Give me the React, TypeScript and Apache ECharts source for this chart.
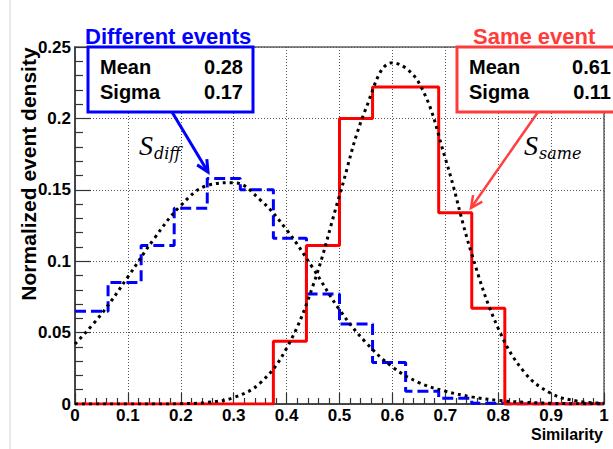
import React, { useEffect, useRef } from "react";
import * as echarts from "echarts";

// Histogram bin edges (16 bins of width 1/16)
const binEdges = [0, 0.0625, 0.125, 0.1875, 0.25, 0.3125, 0.375, 0.4375, 0.5, 0.5625, 0.625, 0.6875, 0.75, 0.8125, 0.875, 0.9375, 1];
// Different events histogram (blue, dashed)
const diffCounts = [0.065, 0.085, 0.111, 0.137, 0.158, 0.150, 0.116, 0.077, 0.056, 0.029, 0.009, 0.004, 0.0005, 0, 0, 0];
// Same event histogram (red, solid)
const sameCounts = [0, 0, 0, 0, 0, 0, 0.044, 0.111, 0.200, 0.222, 0.222, 0.134, 0.067, 0, 0, 0];

// Fitted curves (dotted)
const curveX = [0, 0.05, 0.1, 0.15, 0.2, 0.25, 0.3, 0.35, 0.4, 0.45, 0.5, 0.55, 0.6, 0.65, 0.7, 0.75, 0.8, 0.85, 0.9, 0.95, 1];
const diffFit = [0.042, 0.063, 0.089, 0.116, 0.139, 0.153, 0.155, 0.143, 0.122, 0.095, 0.066, 0.043, 0.026, 0.015, 0.009, 0.005, 0.0025, 0.0012, 0.0005, 0.0002, 0.0001];
const sameFit = [0, 0, 0, 0, 0.0002, 0.0011, 0.0045, 0.0147, 0.039, 0.083, 0.146, 0.207, 0.239, 0.225, 0.172, 0.105, 0.053, 0.022, 0.0074, 0.002, 0.0005];

const diffStats = { title: "Different events", mean: "0.28", sigma: "0.17" };
const sameStats = { title: "Same event", mean: "0.61", sigma: "0.11" };

const SANS = "'Liberation Sans', Arial, sans-serif";
const SERIF = "'DejaVu Serif', serif";
const SERIF2 = "'Liberation Serif', 'Times New Roman', serif";

function stepData(counts: number[]) {
  const pts = counts.map((v, i) => [binEdges[i], v]);
  pts.push([binEdges[binEdges.length - 1], counts[counts.length - 1]]);
  return pts;
}

function arrow(x1: number, y1: number, x2: number, y2: number, color: string, width: number) {
  const a = Math.atan2(y2 - y1, x2 - x1);
  const L = 13;
  const s = 0.45;
  return [
    { type: "line", shape: { x1, y1, x2, y2 }, style: { stroke: color, lineWidth: width }, z: 20 },
    {
      type: "polyline",
      shape: {
        points: [
          [x2 - L * Math.cos(a - s), y2 - L * Math.sin(a - s)],
          [x2, y2],
          [x2 - L * Math.cos(a + s), y2 - L * Math.sin(a + s)],
        ],
      },
      style: { stroke: color, lineWidth: width, fill: null },
      z: 20,
    },
  ];
}

function statBox(x: number, w: number, color: string, stats: any, valRight: number, titleX: number) {
  const font = (size: number) => ({ fontFamily: SANS, fontWeight: "bold", fontSize: size });
  return [
    { type: "rect", shape: { x, y: 47, width: w, height: 65 }, style: { fill: "#fff", stroke: color, lineWidth: 3 }, z: 20 },
    { type: "text", x: titleX, y: 36, style: { text: stats.title, fill: color, ...font(22), align: "left", verticalAlign: "middle" }, z: 21 },
    { type: "text", x: x + 12, y: 67, style: { text: "Mean", fill: "#000", ...font(20), align: "left", verticalAlign: "middle" }, z: 21 },
    { type: "text", x: valRight, y: 67, style: { text: stats.mean, fill: "#000", ...font(20), align: "right", verticalAlign: "middle" }, z: 21 },
    { type: "text", x: x + 12, y: 92, style: { text: "Sigma", fill: "#000", ...font(20), align: "left", verticalAlign: "middle" }, z: 21 },
    { type: "text", x: valRight, y: 92, style: { text: stats.sigma, fill: "#000", ...font(20), align: "right", verticalAlign: "middle" }, z: 21 },
  ];
}

function sLabel(x: number, sub: string) {
  return [
    { type: "text", x, y: 145, style: { text: "S", fill: "#000", fontFamily: SERIF2, fontStyle: "italic", fontSize: 28, align: "left", verticalAlign: "middle" }, z: 21 },
    { type: "text", x: x + 15, y: 153, style: { text: sub, fill: "#000", fontFamily: SERIF, fontStyle: "italic", fontSize: 16, align: "left", verticalAlign: "middle" }, z: 21 },
  ];
}

export default function App() {
  const ref = useRef<HTMLDivElement>(null);
  useEffect(() => {
    if (!ref.current) return;
    const chart = echarts.init(ref.current, undefined, { renderer: "svg" });
    const axisLabel = { color: "#000", fontFamily: SANS, fontWeight: "bold", fontSize: 17 };
    const split = { show: true, lineStyle: { color: "#555", type: [1, 2], width: 1 } };
    chart.setOption({
      animation: false,
      backgroundColor: "#fff",
      grid: { left: 75, right: 9, top: 47, bottom: 45, show: true, borderColor: "#888", borderWidth: 2, backgroundColor: "transparent" },
      xAxis: {
        type: "value",
        min: 0,
        max: 1,
        interval: 0.1,
        axisLine: { show: true, onZero: false, lineStyle: { color: "#333", width: 1.5 } },
        axisTick: { show: true, inside: true, length: 11, lineStyle: { color: "#333", width: 1.2 } },
        minorTick: { show: true, splitNumber: 5, length: 6, lineStyle: { color: "#333", width: 1.2 } },
        axisLabel: { ...axisLabel, margin: 3 },
        splitLine: split,
      },
      yAxis: {
        type: "value",
        min: 0,
        max: 0.25,
        interval: 0.05,
        axisLine: { show: true, onZero: false, lineStyle: { color: "#333", width: 1.5 } },
        axisTick: { show: true, inside: true, length: 16, lineStyle: { color: "#333", width: 1.2 } },
        minorTick: { show: true, splitNumber: 5, length: 8, lineStyle: { color: "#333", width: 1.2 } },
        axisLabel: { ...axisLabel, margin: 4 },
        splitLine: split,
      },
      series: [
        {
          type: "line",
          name: "Different events",
          data: stepData(diffCounts),
          step: "end",
          showSymbol: false,
          lineStyle: { color: "#0000ff", width: 3, type: [11, 5] },
          z: 3,
        },
        {
          type: "line",
          name: "Same event",
          data: stepData(sameCounts),
          step: "end",
          showSymbol: false,
          lineStyle: { color: "#ff0000", width: 3 },
          z: 4,
        },
        {
          type: "line",
          name: "Different fit",
          data: curveX.map((x, i) => [x, diffFit[i]]),
          smooth: 0.4,
          showSymbol: false,
          lineStyle: { color: "#000", width: 3, type: [3, 4], cap: "butt" },
          z: 5,
        },
        {
          type: "line",
          name: "Same fit",
          data: curveX.map((x, i) => [x, sameFit[i]]),
          smooth: 0.4,
          showSymbol: false,
          lineStyle: { color: "#000", width: 3, type: [3, 4], cap: "butt" },
          z: 5,
        },
      ],
      graphic: [
        { type: "line", shape: { x1: 10, y1: 0, x2: 10, y2: 449 }, style: { stroke: "#d4d4d4", lineWidth: 1 } },
        {
          type: "text",
          x: 28,
          y: 174,
          rotation: Math.PI / 2,
          style: { text: "Normalized event density", fill: "#000", fontFamily: SANS, fontWeight: "bold", fontSize: 21, align: "center", verticalAlign: "middle" },
        },
        {
          type: "text",
          x: 603,
          y: 434,
          style: { text: "Similarity", fill: "#000", fontFamily: SANS, fontWeight: "bold", fontSize: 16, align: "right", verticalAlign: "middle" },
        },
        ...statBox(88, 165, "#0000ff", diffStats, 243, 85),
        ...statBox(457, 170, "#ff3c3c", sameStats, 611, 473),
        ...arrow(172, 112, 208, 172, "#0000ff", 3),
        ...arrow(538, 112, 471, 208, "#ff4040", 2.5),
        ...sLabel(139, "diff"),
        ...sLabel(524, "same"),
      ],
    });
    return () => chart.dispose();
  }, []);
  return <div ref={ref} style={{ position: "absolute", left: 0, top: 0, width: 613, height: 449 }} />;
}
